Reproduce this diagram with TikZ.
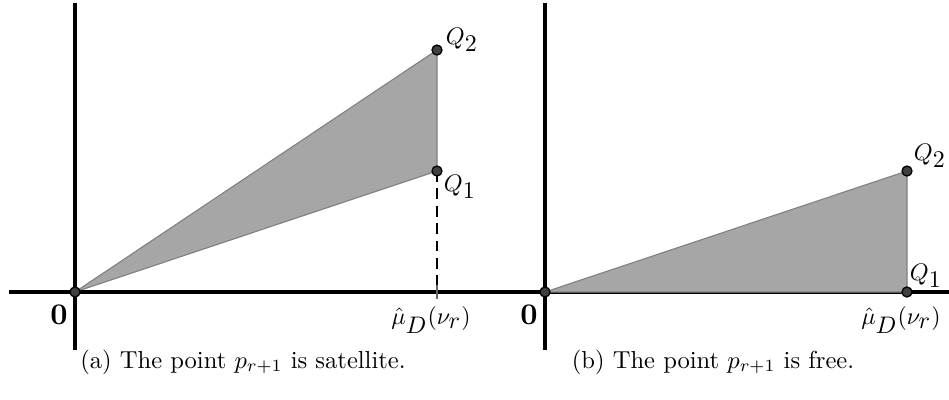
\documentclass[tikz,border=0pt]{standalone}
\usepackage{amsmath}
\usepackage{graphicx}
\newcommand{\captxt}[1]{\scalebox{1.13}{#1}}
\newcommand{\labtxt}[1]{\scalebox{1.1}{#1}}
\newcommand{\zerotxt}[1]{\scalebox{1.38}{#1}}
\begin{document}
\begin{tikzpicture}[x=0.46pt,y=-0.46pt,
  axis/.style={line width=1.4pt,black},
  region/.style={fill=black!35,draw=black!50,line width=0.5pt},
  pt/.style={circle,fill=black!75,draw=black,line width=0.6pt,inner sep=0pt,minimum size=4.6pt},
  lbl/.style={inner sep=1pt}]
\useasboundingbox (0,0) rectangle (949,399);
% ---- panel (a)
\coordinate (a0) at (75,292);
\coordinate (aQ2) at (437,50);
\coordinate (aQ1) at (437,171);
\coordinate (aT) at (437,292);
\coordinate (aL) at (9,292);
\coordinate (aR) at (480,292);
\coordinate (aU) at (75,3);
\coordinate (aD) at (75,350);
\filldraw[region] (a0) -- (aQ2) -- (aQ1) -- cycle;
\draw[axis] (aL) -- (aR);
\draw[axis] (aU) -- (aD);
\draw[line width=0.9pt,dash pattern=on 5pt off 3pt] (aQ1) -- (aT);
\draw[line width=0.5pt,black!60] ([yshift=3pt]aT) -- ([yshift=-3pt]aT);
\node[pt] (pa0) at (a0) {};
\node[pt] (paQ2) at (aQ2) {};
\node[pt] (paQ1) at (aQ1) {};
\node[lbl] (la0) at (59,315) {\zerotxt{$\mathbf{0}$}};
\node[lbl] (laQ2) at (462,40) {\labtxt{$Q_{\textstyle 2}$}};
\node[lbl] (laQ1) at (460,187) {\labtxt{$Q_{\textstyle 1}$}};
\node[lbl] (laT) at (431,320) {\labtxt{$\hat{\mu}_{\textstyle D}(\nu_{\textstyle r})$}};
\node[lbl] (capa) at (243,362) {\captxt{(a) The point $p_{r+1}$ is satellite.}};
% ---- panel (b)
\coordinate (b0) at (545,292);
\coordinate (bQ2) at (907,171);
\coordinate (bQ1) at (907,292);
\coordinate (bL) at (480,292);
\coordinate (bR) at (949,292);
\coordinate (bU) at (545,3);
\coordinate (bD) at (545,350);
\draw[axis] (bL) -- (bR);
\draw[axis] (bU) -- (bD);
\filldraw[region] (b0) -- (bQ2) -- (bQ1) -- cycle;
\node[pt] (pb0) at (b0) {};
\node[pt] (pbQ2) at (bQ2) {};
\node[pt] (pbQ1) at (bQ1) {};
\node[lbl] (lb0) at (529,315) {\zerotxt{$\mathbf{0}$}};
\node[lbl] (lbQ2) at (930,156) {\labtxt{$Q_{\textstyle 2}$}};
\node[lbl] (lbQ1) at (926,276) {\labtxt{$Q_{\textstyle 1}$}};
\node[lbl] (lbT) at (901,320) {\labtxt{$\hat{\mu}_{\textstyle D}(\nu_{\textstyle r})$}};
\node[lbl] (capb) at (713,362) {\captxt{(b) The point $p_{r+1}$ is free.}};
\end{tikzpicture}
\end{document}
